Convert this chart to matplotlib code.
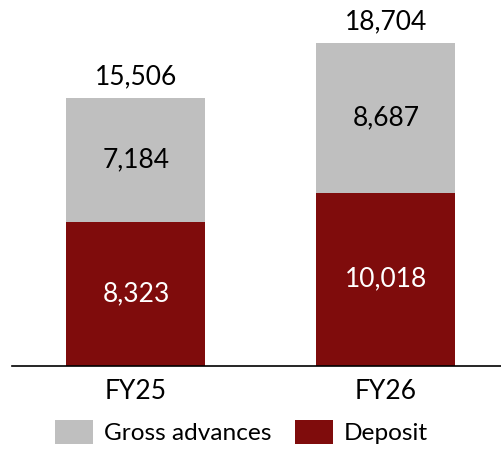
import matplotlib
matplotlib.use("Agg")
import matplotlib.pyplot as plt
import numpy as np

# data
categories = ["FY25", "FY26"]
deposit = [8323, 10018]
gross_advances = [7184, 8687]
totals = [15506, 18704]

DEPOSIT_COLOR = "#7F0C0C"
ADVANCES_COLOR = "#BFBFBF"
FONT = "Lato"
FS = 19
LEG_FS = 17.6

plt.rcParams["font.family"] = [FONT, "DejaVu Sans"]

fig = plt.figure(figsize=(5.02, 4.51), dpi=100)
ax = fig.add_axes([12 / 502, (451 - 365.5) / 451, 490 / 502, 345 / 451])

x = np.arange(len(categories))
width = 0.556

ax.bar(x, deposit, width, color=DEPOSIT_COLOR, label="Deposit")
ax.bar(x, gross_advances, width, bottom=deposit, color=ADVANCES_COLOR,
       label="Gross advances")

for i in range(len(categories)):
    ax.text(x[i], deposit[i] / 2, f"{deposit[i]:,}", ha="center", va="center",
            color="white", fontsize=FS)
    ax.text(x[i], deposit[i] + gross_advances[i] / 2, f"{gross_advances[i]:,}",
            ha="center", va="center", color="black", fontsize=FS)
    ax.text(x[i], totals[i] + 500, f"{totals[i]:,}", ha="center", va="bottom",
            color="black", fontsize=FS, clip_on=False)

ax.set_xlim(-0.496, 1.464)
ax.set_ylim(0, 20000)
ax.set_xticks(x)
ax.set_xticklabels(categories, fontsize=FS)
ax.tick_params(axis="x", length=0, pad=10)
ax.set_yticks([])

for side in ["top", "right", "left"]:
    ax.spines[side].set_visible(False)
ax.spines["bottom"].set_color("black")
ax.spines["bottom"].set_linewidth(1.2)

# legend: advances first, like the reference
handles, labels = ax.get_legend_handles_labels()
fig.legend(handles[::-1], labels[::-1], loc="center", ncol=2,
           bbox_to_anchor=(0.481, 0.042), frameon=False, fontsize=LEG_FS,
           handlelength=1.55, handleheight=1.14, handletextpad=0.45,
           columnspacing=0.95, borderaxespad=0)

fig.savefig("out.png", dpi=100)
